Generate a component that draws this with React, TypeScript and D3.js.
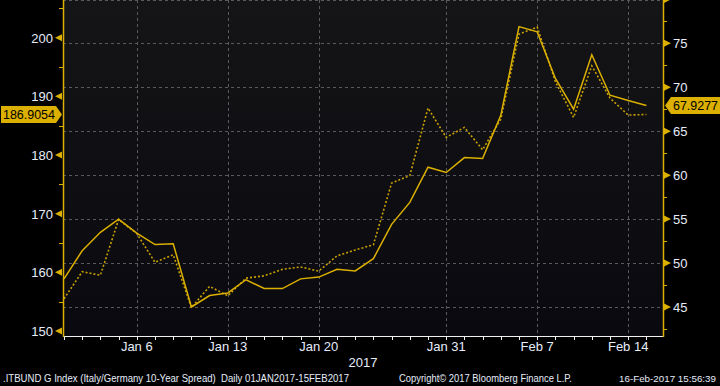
import React, { useEffect, useRef } from "react";
import * as d3 from "d3";

// --- Data (business days only, Bloomberg-style axis)
const dates = [
  "2017-01-02", "2017-01-03", "2017-01-04", "2017-01-05", "2017-01-06",
  "2017-01-09", "2017-01-10", "2017-01-11", "2017-01-12", "2017-01-13",
  "2017-01-16", "2017-01-17", "2017-01-18", "2017-01-19", "2017-01-20",
  "2017-01-23", "2017-01-24", "2017-01-25", "2017-01-26", "2017-01-27",
  "2017-01-30", "2017-01-31", "2017-02-01", "2017-02-02", "2017-02-03",
  "2017-02-06", "2017-02-07", "2017-02-08", "2017-02-09", "2017-02-10",
  "2017-02-13", "2017-02-14", "2017-02-15",
];

// Italy/Germany 10y spread (left axis, dotted)
const spread = [
  155.5, 160.1, 159.5, 169.0, 166.6, 161.7, 163.0, 154.0, 157.6, 156.0,
  159.0, 159.4, 160.5, 160.9, 160.2, 162.8, 163.8, 164.7, 175.2, 176.5,
  188.0, 183.0, 184.7, 180.9, 186.1, 200.6, 201.8, 192.5, 186.4, 195.2,
  189.7, 186.8, 186.9054,
];

// second series (right axis, solid)
const rightSeries = [
  48.2, 51.4, 53.5, 55.0, 53.4, 52.1, 52.2, 45.0, 46.3, 46.6,
  48.1, 47.1, 47.1, 48.2, 48.4, 49.3, 49.1, 50.5, 54.4, 56.9,
  60.9, 60.3, 62.0, 61.9, 66.8, 76.9, 76.3, 71.0, 67.5, 73.7,
  69.1, 68.5, 67.9277,
];

const xTickDates = ["2017-01-06", "2017-01-13", "2017-01-20", "2017-01-31", "2017-02-07", "2017-02-14"];
const xTickLabels = ["Jan 6", "Jan 13", "Jan 20", "Jan 31", "Feb 7", "Feb 14"];
const leftTicks = [150, 160, 170, 180, 190, 200];
const leftMinor = [155, 165, 175, 185, 195, 205];
const rightTicks = [45, 50, 55, 60, 65, 70, 75, 80];
const rightMinor = [42.5, 47.5, 52.5, 57.5, 62.5, 67.5, 72.5, 77.5];

const W = 720;
const H = 386;
const GOLD = "#dcb000";
const TEXT = "#e6ecfa";
const FONT = "'Liberation Sans', Arial, sans-serif";

const Chart: React.FC = () => {
  const ref = useRef<SVGSVGElement | null>(null);

  useEffect(() => {
    if (!ref.current) return;
    const root = d3.select(ref.current);
    root.selectAll("*").remove();

    const plot = { left: 63, right: 663, top: 0, bottom: 336 };

    const x = d3.scaleLinear().domain([0, 33]).range([64, 664.6]);
    const yL = d3.scaleLinear().domain([149.14, 206.42]).range([plot.bottom, plot.top]);
    const yR = d3.scaleLinear().domain([41.7, 79.93]).range([plot.bottom, plot.top]);
    const idx = (d: string) => dates.indexOf(d);

    root.append("rect").attr("width", W).attr("height", H).attr("fill", "#000");

    const defs = root.append("defs");
    const grad = defs
      .append("linearGradient")
      .attr("id", "bg")
      .attr("x1", 0)
      .attr("y1", 0)
      .attr("x2", 0)
      .attr("y2", 1);
    grad.append("stop").attr("offset", "0%").attr("stop-color", "#151517");
    grad.append("stop").attr("offset", "100%").attr("stop-color", "#09090f");

    root
      .append("rect")
      .attr("x", plot.left)
      .attr("y", plot.top)
      .attr("width", plot.right - plot.left)
      .attr("height", plot.bottom - plot.top)
      .attr("fill", "url(#bg)");

    // --- Grid
    const grid = root.append("g").attr("stroke", "#5a5a5e").attr("stroke-dasharray", "3,3").attr("stroke-width", 1);
    rightTicks.forEach((v) => {
      const yy = Math.max(0.5, Math.round(yR(v)) + 0.5);
      grid.append("line").attr("x1", plot.left).attr("x2", plot.right).attr("y1", yy).attr("y2", yy);
    });
    xTickDates.forEach((d) => {
      const xx = Math.round(x(idx(d))) + 0.5;
      grid.append("line").attr("x1", xx).attr("x2", xx).attr("y1", plot.top).attr("y2", plot.bottom);
    });

    // --- Lines
    const lineL = d3
      .line<number>()
      .x((_, i) => x(i))
      .y((d) => yL(d));
    const lineR = d3
      .line<number>()
      .x((_, i) => x(i))
      .y((d) => yR(d));

    root
      .append("path")
      .attr("d", lineL(spread)!)
      .attr("fill", "none")
      .attr("stroke", "#c9a000")
      .attr("stroke-width", 1.6)
      .attr("stroke-dasharray", "2,2");

    root
      .append("path")
      .attr("d", lineR(rightSeries)!)
      .attr("fill", "none")
      .attr("stroke", GOLD)
      .attr("stroke-width", 1.5);

    // --- Bottom axis
    root
      .append("line")
      .attr("x1", plot.left)
      .attr("x2", plot.right)
      .attr("y1", plot.bottom + 0.5)
      .attr("y2", plot.bottom + 0.5)
      .attr("stroke", "#f0f0f0");
    dates.forEach((_, i) => {
      const xx = Math.round(x(i)) + 0.5;
      root
        .append("line")
        .attr("x1", xx)
        .attr("x2", xx)
        .attr("y1", plot.bottom)
        .attr("y2", plot.bottom + 4)
        .attr("stroke", "#f0f0f0");
    });
    xTickDates.forEach((d, i) => {
      root
        .append("text")
        .attr("x", x(idx(d)))
        .attr("y", 351)
        .attr("text-anchor", "middle")
        .style("font-family", FONT)
        .style("font-size", "13px")
        .style("fill", TEXT)
        .text(xTickLabels[i]);
    });
    root
      .append("text")
      .attr("x", 363)
      .attr("y", 367)
      .attr("text-anchor", "middle")
      .style("font-family", FONT)
      .style("font-size", "13px")
      .style("fill", TEXT)
      .text("2017");

    // --- Left axis
    root
      .append("line")
      .attr("x1", plot.left + 0.5)
      .attr("x2", plot.left + 0.5)
      .attr("y1", plot.top)
      .attr("y2", plot.bottom + 1)
      .attr("stroke", GOLD)
      .attr("stroke-width", 1.5);
    leftMinor.forEach((v) => {
      const yy = Math.round(yL(v)) + 0.5;
      root.append("line").attr("x1", 59).attr("x2", 63).attr("y1", yy).attr("y2", yy).attr("stroke", GOLD);
    });
    leftTicks.forEach((v) => {
      const yy = yL(v);
      root
        .append("path")
        .attr("d", `M55,${yy} L62,${yy - 3.5} L62,${yy + 3.5} Z`)
        .attr("fill", GOLD);
      root
        .append("text")
        .attr("x", 53)
        .attr("y", yy + 5)
        .attr("text-anchor", "end")
        .style("font-family", FONT)
        .style("font-size", "13px")
        .style("fill", TEXT)
        .text(v);
    });

    // --- Right axis
    root
      .append("line")
      .attr("x1", plot.right + 0.5)
      .attr("x2", plot.right + 0.5)
      .attr("y1", plot.top)
      .attr("y2", plot.bottom + 1)
      .attr("stroke", GOLD)
      .attr("stroke-width", 1.5);
    rightMinor.forEach((v) => {
      const yy = Math.round(yR(v)) + 0.5;
      root.append("line").attr("x1", 663).attr("x2", 667).attr("y1", yy).attr("y2", yy).attr("stroke", GOLD);
    });
    rightTicks.forEach((v) => {
      const yy = yR(v);
      root
        .append("path")
        .attr("d", `M671,${yy} L664,${yy - 3.5} L664,${yy + 3.5} Z`)
        .attr("fill", GOLD);
      if (v === 80) return;
      root
        .append("text")
        .attr("x", 673)
        .attr("y", yy + 5)
        .style("font-family", FONT)
        .style("font-size", "13px")
        .style("fill", TEXT)
        .text(v);
    });

    // --- Last value labels
    const lastL = spread[spread.length - 1];
    const yl = yL(lastL);
    root
      .append("path")
      .attr("d", `M1,${yl - 8.5} L56,${yl - 8.5} L62,${yl} L56,${yl + 8.5} L1,${yl + 8.5} Z`)
      .attr("fill", GOLD);
    root
      .append("text")
      .attr("x", 3)
      .attr("y", yl + 5)
      .attr("textLength", 52)
      .attr("lengthAdjust", "spacingAndGlyphs")
      .style("font-family", FONT)
      .style("font-size", "13px")
      .style("fill", "#000")
      .text(lastL.toFixed(4));

    const lastR = rightSeries[rightSeries.length - 1];
    const yr = yR(lastR);
    root
      .append("path")
      .attr("d", `M665,${yr} L671,${yr - 8.5} L720,${yr - 8.5} L720,${yr + 8.5} L671,${yr + 8.5} Z`)
      .attr("fill", GOLD);
    root
      .append("text")
      .attr("x", 673)
      .attr("y", yr + 5)
      .attr("textLength", 45)
      .attr("lengthAdjust", "spacingAndGlyphs")
      .style("font-family", FONT)
      .style("font-size", "13px")
      .style("fill", "#000")
      .text(lastR.toFixed(4));

    // --- Footer
    const footerStyle = (t: d3.Selection<SVGTextElement, unknown, null, undefined>) =>
      t
        .attr("y", 382)
        .style("font-family", FONT)
        .style("font-size", "10.5px")
        .style("fill", TEXT)
        .style("white-space", "pre");

    root
      .append("text")
      .attr("x", 3)
      .attr("textLength", 346)
      .attr("lengthAdjust", "spacingAndGlyphs")
      .call(footerStyle)
      .text(".ITBUND G Index (Italy/Germany 10-Year Spread)  Daily 01JAN2017-15FEB2017");
    root
      .append("text")
      .attr("x", 399)
      .attr("textLength", 173)
      .attr("lengthAdjust", "spacingAndGlyphs")
      .call(footerStyle)
      .text("Copyright\u00A9 2017 Bloomberg Finance L.P.");
    root
      .append("text")
      .attr("x", 716)
      .attr("text-anchor", "end")
      .call(footerStyle)
      .style("font-size", "9.8px")
      .text("16-Feb-2017 15:56:39");
  }, []);

  return (
    <svg
      ref={ref}
      width={W}
      height={H}
      style={{ position: "absolute", left: 0, top: 0, display: "block" }}
    />
  );
};

export default function App() {
  return <Chart />;
}
